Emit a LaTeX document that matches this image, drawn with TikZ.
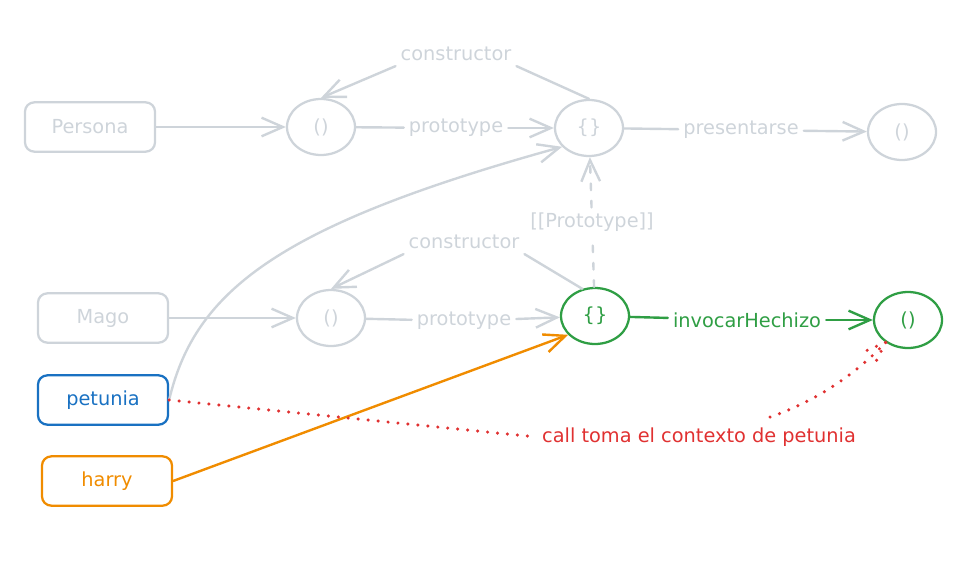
\documentclass[tikz,border=0pt]{standalone}
\usepackage{fontspec}
\setmainfont{DejaVu Sans}
\usetikzlibrary{arrows.meta,shapes.geometric}
\definecolor{lgray}{HTML}{CED4DA}
\definecolor{exgreen}{HTML}{2F9E44}
\definecolor{exblue}{HTML}{1971C2}
\definecolor{exorange}{HTML}{F08C00}
\definecolor{exred}{HTML}{E03131}
\begin{document}
\begin{tikzpicture}[x=0.75pt,y=-0.75pt,
  font=\fontsize{14.5}{17}\selectfont, line width=1.8pt, line cap=round,
  box/.style={draw, rounded corners=7pt, minimum width=97.5pt, minimum height=37pt, line width=1.7pt},
  obj/.style={draw, ellipse, minimum width=51pt, minimum height=42pt, inner sep=0pt, line width=1.7pt},
  lbl/.style={inner sep=3pt},
  arr/.style={-{Straight Barb[length=16pt,width=14pt]}},
  gdash/.style={dash pattern=on 5pt off 8pt},
  reddot/.style={exred, line width=2.6pt, line cap=round, dash pattern=on 0pt off 7.5pt}]
\useasboundingbox (0,0) rectangle (966,563);

% nodes
\node[box,lgray] (persona) at (90,127) {Persona};
\node[obj,lgray] (pfn) at (321,127) {()};
\node[obj,lgray] (pproto) at (589,128) {\{\}};
\node[obj,lgray] (pres) at (902,132) {()};
\node[lbl,lgray] (c1) at (456,54) {constructor};
\node[lbl,lgray] (pt1) at (456,128) {prototype};
\node[lbl,lgray] (pl) at (741,130) {presentarse};

\node[box,lgray] (mago) at (103,318) {Mago};
\node[obj,lgray] (mfn) at (331,318) {()};
\node[obj,exgreen] (mproto) at (595,316) {\{\}};
\node[obj,exgreen] (hech) at (908,320) {()};
\node[lbl,lgray] (c2) at (464,242) {constructor};
\node[lbl,lgray] (pt2) at (464,321) {prototype};
\node[lbl,exgreen] (ih) at (747,320) {invocarHechizo};
\node[lbl,lgray] (pp) at (592,222) {[[Prototype]]};

\node[box,exblue] (petunia) at (103,400) {petunia};
\node[box,exorange] (harry) at (107,481) {harry};
\node[lbl,exred] (call) at (699,437) {call toma el contexto de petunia};
\coordinate (cstart) at (770,417);

% Persona connectors
\draw[lgray,arr] (persona) -- (pfn);
\draw[lgray] (pfn) -- (pt1);
\draw[lgray,arr] (pt1) -- (pproto);
\draw[lgray] (pproto) -- (pl);
\draw[lgray,arr] (pl) -- (pres);
\draw[lgray] (pproto.north) -- (c1.south east);
\draw[lgray,arr] (c1.south west) -- (pfn.north);

% Mago connectors
\draw[lgray,arr] (mago) -- (mfn);
\draw[lgray] (mfn) -- (pt2);
\draw[lgray,arr] (pt2) -- (mproto);
\draw[exgreen] (mproto) -- (ih);
\draw[exgreen,arr] (ih) -- (hech);
\draw[lgray] (mproto.115) -- (c2.south east);
\draw[lgray,arr] (c2.south west) -- (mfn.north);
\draw[lgray,gdash] (mproto) -- (pp);
\draw[lgray,gdash,arr] (pp) -- (pproto);

% instances
\draw[lgray,arr] (petunia.east) .. controls (195,290) and (280,225) .. (pproto.215);
\draw[exorange,arr] (harry.east) -- (mproto.215);

% call
\draw[reddot] (petunia.east) -- (call.west);
\draw[reddot] (cstart) .. controls (820,400) and (860,370) .. (hech.225);
\draw[reddot] (hech.225) -- ++(-21,9);
\draw[reddot] (hech.225) -- ++(-10,20);
\end{tikzpicture}
\end{document}
